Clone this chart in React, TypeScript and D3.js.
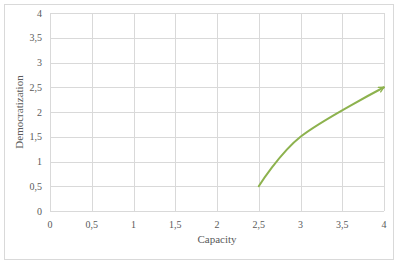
import React, { useEffect, useRef } from 'react';
import * as d3 from 'd3';

// values
const capacity = [2.5, 3, 4];
const democratization = [0.5, 1.5, 2.5];
const xTicks = [0, 0.5, 1, 1.5, 2, 2.5, 3, 3.5, 4];
const yTicks = [0, 0.5, 1, 1.5, 2, 2.5, 3, 3.5, 4];

const fmt = (v: number) => String(v).replace('.', ',');

const App = () => {
    const ref = useRef<SVGSVGElement>(null);

    useEffect(() => {
        const svg = d3.select(ref.current);
        svg.selectAll('*').remove();

        const left = 50, right = 384, top = 13, bottom = 211;
        const font = 'Liberation Serif, DejaVu Serif, serif';
        const textColor = '#595959';
        const lineColor = '#8db24e';

        // chart border
        svg.append('rect')
            .attr('x', 4.5).attr('y', 4.5)
            .attr('width', 389).attr('height', 255)
            .attr('fill', '#fff')
            .attr('stroke', '#d9d9d9');

        const x = d3.scaleLinear().domain([0, 4]).range([left, right]);
        const y = d3.scaleLinear().domain([0, 4]).range([bottom, top]);

        // grid
        svg.append('g').selectAll('line').data(xTicks).enter().append('line')
            .attr('x1', d => Math.round(x(d)) + 0.5).attr('x2', d => Math.round(x(d)) + 0.5)
            .attr('y1', top).attr('y2', bottom)
            .attr('stroke', '#d9d9d9');
        svg.append('g').selectAll('line').data(yTicks).enter().append('line')
            .attr('x1', left).attr('x2', right)
            .attr('y1', d => Math.round(y(d)) + 0.5).attr('y2', d => Math.round(y(d)) + 0.5)
            .attr('stroke', '#d9d9d9');

        // tick labels
        svg.append('g').selectAll('text').data(xTicks).enter().append('text')
            .attr('x', d => x(d)).attr('y', 228)
            .attr('text-anchor', 'middle')
            .attr('font-family', font).attr('font-size', 10)
            .attr('fill', textColor)
            .text(d => fmt(d));
        svg.append('g').selectAll('text').data(yTicks).enter().append('text')
            .attr('x', 42).attr('y', d => y(d) + 3.5)
            .attr('text-anchor', 'end')
            .attr('font-family', font).attr('font-size', 10)
            .attr('fill', textColor)
            .text(d => fmt(d));

        // axis titles
        svg.append('text')
            .attr('x', (left + right) / 2).attr('y', 243)
            .attr('text-anchor', 'middle')
            .attr('font-family', font).attr('font-size', 11)
            .attr('fill', textColor)
            .text('Capacity');
        svg.append('text')
            .attr('transform', `translate(23,${(top + bottom) / 2}) rotate(-90)`)
            .attr('text-anchor', 'middle')
            .attr('font-family', font).attr('font-size', 11)
            .attr('fill', textColor)
            .text('Democratization');

        // arrow head
        svg.append('defs').append('marker')
            .attr('id', 'arrow')
            .attr('viewBox', '0 0 10 10')
            .attr('refX', 9).attr('refY', 5)
            .attr('markerWidth', 3.5).attr('markerHeight', 3.5)
            .attr('orient', 'auto')
            .append('path')
            .attr('d', 'M1,1 L9,5 L1,9')
            .attr('fill', 'none')
            .attr('stroke', lineColor)
            .attr('stroke-width', 1.8);

        // smoothed line, like the spreadsheet's smooth scatter
        const pts = capacity.map((c, i) => [c, democratization[i]] as [number, number]);
        const line = d3.line<[number, number]>()
            .x(d => x(d[0]))
            .y(d => y(d[1]))
            .curve(d3.curveCatmullRom.alpha(0));

        svg.append('path')
            .datum(pts)
            .attr('d', line)
            .attr('fill', 'none')
            .attr('stroke', lineColor)
            .attr('stroke-width', 2)
            .attr('stroke-linecap', 'round')
            .attr('marker-end', 'url(#arrow)');
    }, []);

    return (
        <svg ref={ref} width={397} height={264} style={{ display: 'block', position: 'absolute', left: 0, top: 0 }} />
    );
};

export default App;
